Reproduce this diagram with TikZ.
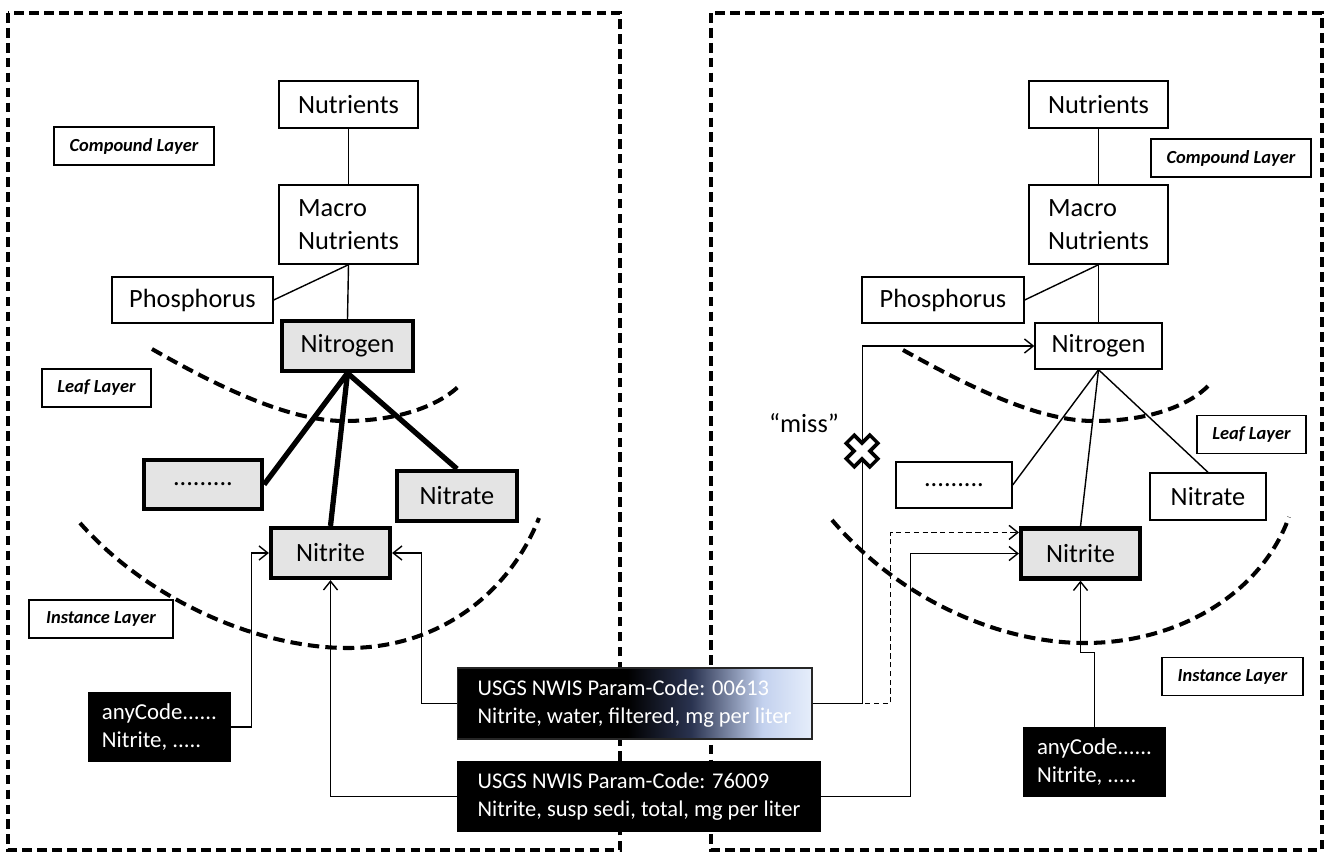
\documentclass[tikz,border=0pt]{standalone}
\usepackage{fontspec}
\setmainfont{Carlito}
\usetikzlibrary{arrows.meta}

\definecolor{focusgray}{HTML}{E4E4E4}
\definecolor{fadeA}{HTML}{2A3350}
\definecolor{fadeB}{HTML}{C3D1EE}
\definecolor{fadeC}{HTML}{E6EEFB}

% black on the left, fading to a pale blue on the right
\pgfdeclarehorizontalshading{codefade}{100bp}{color(0bp)=(black); color(49bp)=(black); color(58bp)=(fadeA); color(68bp)=(fadeB); color(75bp)=(fadeC); color(100bp)=(fadeC)}

\begin{document}
\begin{tikzpicture}[x=0.02cm, y=-0.02cm,
  concept/.style={draw, line width=0.8pt, fill=white, inner sep=0pt,
    font=\fontsize{15}{18.7}\selectfont},
  focus/.style={concept, line width=2.4pt, fill=focusgray},
  layertag/.style={draw, line width=0.8pt, fill=white, inner sep=0pt,
    minimum height=0.76cm, font=\fontsize{10.5}{12}\selectfont\bfseries\itshape},
  codebox/.style={fill=black, text=white, inner sep=0pt, align=left,
    font=\fontsize{12.8}{15.5}\selectfont},
  link/.style={line width=0.8pt},
  heavylink/.style={line width=3pt},
  feed/.style={line width=0.8pt, -{Straight Barb[length=5pt,width=8pt]}},
  panel/.style={line width=2pt, dash pattern=on 5.5pt off 3pt},
  layercurve/.style={line width=2.3pt, dash pattern=on 6.5pt off 3.5pt},
]
\useasboundingbox (0,0) rectangle (1327,853);

% ---------- panels ----------
\draw[panel] (8,13) rectangle (620,850);
\draw[panel] (711,13) rectangle (1322,850);

% ---------- layer boundaries ----------
\draw[layercurve] (152,349) .. controls (220,388) and (290,421) .. (344,421)
                            .. controls (400,421) and (440,405) .. (460,385);
\draw[layercurve] (80,523) .. controls (150,602) and (260,648) .. (348,648)
                           .. controls (440,648) and (510,592) .. (539,518);
\draw[layercurve] (903,350) .. controls (975,390) and (1040,421) .. (1094,421)
                            .. controls (1150,421) and (1190,405) .. (1209,385);
\draw[layercurve] (832,520) .. controls (900,600) and (1000,643) .. (1085,643)
                            .. controls (1180,643) and (1262,592) .. (1289,517);

% ---------- left hierarchy ----------
\node[concept, minimum width=2.78cm, minimum height=0.94cm] (nutL) at (348.5,104.5) {Nutrients};
\node[concept, minimum width=2.78cm, minimum height=1.58cm, align=left] (macroL) at (348.5,224.5) {Macro\\Nutrients};
\node[concept, minimum width=3.22cm, minimum height=0.92cm] (phosL) at (192.5,300) {Phosphorus};
\node[focus, minimum width=2.62cm, minimum height=1.0cm] (nitroL) at (347.5,346) {Nitrogen};
\node[focus, minimum width=2.36cm, minimum height=0.98cm] (dotsL) at (203,484.5) {.........};
\node[focus, minimum width=2.4cm, minimum height=1.0cm] (nitrateL) at (457,496) {Nitrate};
\node[focus, minimum width=2.38cm, minimum height=1.0cm] (nitriteL) at (330.5,553) {Nitrite};

\node[layertag, minimum width=3.2cm] (compL) at (134,146) {Compound Layer};
\node[layertag, minimum width=2.18cm] (leafL) at (96.5,388) {Leaf Layer};
\node[layertag, minimum width=2.88cm] (instL) at (101,619) {Instance Layer};

\node[codebox, minimum width=2.86cm, minimum height=1.4cm, font=\fontsize{13}{15.5}\selectfont] (anyL) at (159.5,727) {anyCode......\\Nitrite, .....};

\draw[link] (nutL) -- (macroL);
\draw[link] (macroL.south) -- (nitroL.north);
\draw[link] (macroL.south) -- (phosL.east);
\draw[heavylink] (nitroL.south) -- (dotsL.east);
\draw[heavylink] (nitroL.south) -- (nitriteL.north);
\draw[heavylink] (nitroL.south) -- (nitrateL.north);

% ---------- right hierarchy ----------
\node[concept, minimum width=2.78cm, minimum height=0.94cm] (nutR) at (1098.5,104.5) {Nutrients};
\node[concept, minimum width=2.78cm, minimum height=1.58cm, align=left] (macroR) at (1098.5,224.5) {Macro\\Nutrients};
\node[concept, minimum width=3.24cm, minimum height=0.92cm] (phosR) at (943,300) {Phosphorus};
\node[concept, minimum width=2.54cm, minimum height=0.92cm] (nitroR) at (1098.5,346) {Nitrogen};
\node[concept, minimum width=2.32cm, minimum height=0.92cm] (dotsR) at (954,485) {.........};
\node[concept, minimum width=2.32cm, minimum height=0.94cm] (nitrateR) at (1208,496.5) {Nitrate};
\node[focus, minimum width=2.38cm, minimum height=1.0cm] (nitriteR) at (1080.5,553.5) {Nitrite};

\node[layertag, minimum width=3.2cm] (compR) at (1231,158) {Compound Layer};
\node[layertag, minimum width=2.18cm] (leafR) at (1251.5,434.5) {Leaf Layer};
\node[layertag, minimum width=2.82cm] (instR) at (1232.5,676.5) {Instance Layer};

\node[codebox, minimum width=2.86cm, minimum height=1.4cm, font=\fontsize{13}{15.5}\selectfont] (anyR) at (1094.5,762) {anyCode......\\Nitrite, .....};

\draw[link] (nutR) -- (macroR);
\draw[link] (macroR.south) -- (nitroR.north);
\draw[link] (macroR.south) -- (phosR.east);
\draw[link] (nitroR.south) -- (dotsR.east);
\draw[link] (nitroR.south) -- (nitriteR.north);
\draw[link] (nitroR.south) -- (nitrateR.north);

% ---------- shared parameter codes ----------
\node[codebox, minimum width=7.1cm, minimum height=1.42cm, shading=codefade, draw=black!85, line width=0.6pt] (usgsA) at (634.5,703.5)
  {USGS NWIS Param-Code: 00613\\Nitrite, water, filtered, mg per liter};
\node[codebox, minimum width=7.28cm, minimum height=1.42cm] (usgsB) at (639,796.5)
  {USGS NWIS Param-Code: 76009\\Nitrite, susp sedi, total, mg per liter};

% ---------- mappings, left ----------
\draw[feed] (anyL.east) -- ++(20,0) |- (nitriteL.west);
\draw[feed] (usgsA.west) -- ++(-35,0) |- (nitriteL.east);
\draw[feed] (usgsB.west) -| (nitriteL.south);

% ---------- mappings, right ----------
\draw[feed, dashed, dash pattern=on 3pt off 2pt] (usgsA.east) -- ++(78,0) |- ([yshift=12pt]nitriteR.west);
\draw[feed] (usgsA.east) -- ++(50,0) |- (nitroR.west);
\draw[feed] (usgsB.east) -- ++(89,0) |- (nitriteR.west);
\draw[feed] (anyR.north) -- ++(0,-74) -| (nitriteR.south);

% missed mapping mark
\coordinate (cross) at (862,451);
\draw[line width=8.5pt] ([shift={(-13,-13)}]cross) -- ([shift={(13,13)}]cross);
\draw[line width=8.5pt] ([shift={(-13,13)}]cross) -- ([shift={(13,-13)}]cross);
\draw[line width=4.2pt, white] ([shift={(-10.5,-10.5)}]cross) -- ([shift={(10.5,10.5)}]cross);
\draw[line width=4.2pt, white] ([shift={(-10.5,10.5)}]cross) -- ([shift={(10.5,-10.5)}]cross);
\node[font=\fontsize{15}{18}\selectfont] (miss) at (804,423) {“miss”};

\end{tikzpicture}
\end{document}
